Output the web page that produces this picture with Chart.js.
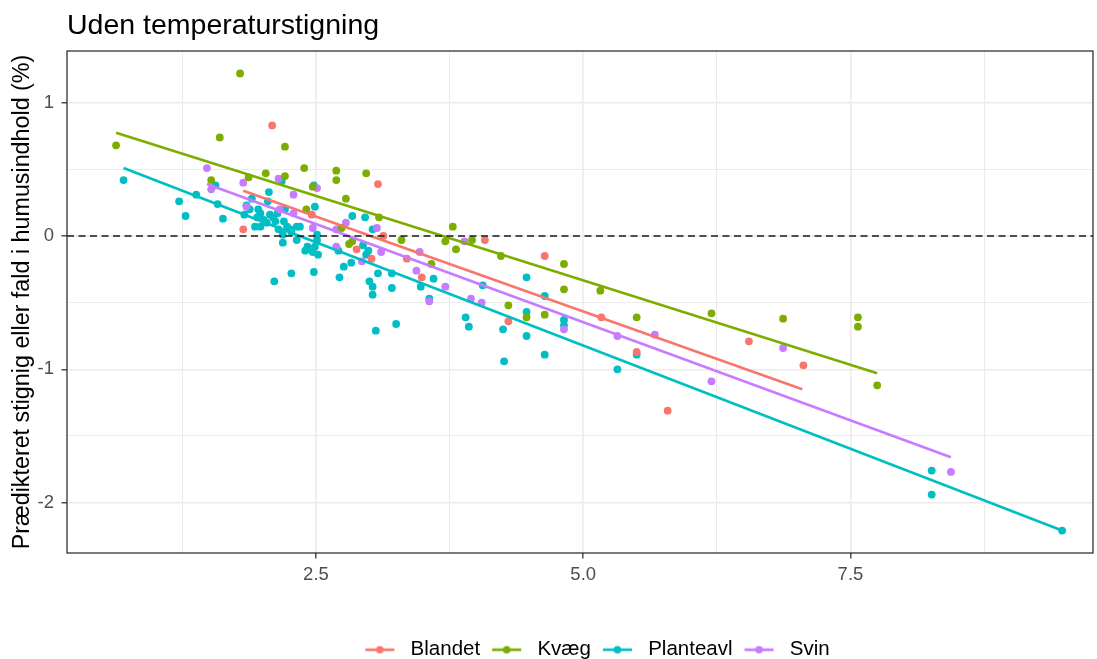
<!DOCTYPE html>
<html>
<head>
<meta charset="utf-8">
<title>Uden temperaturstigning</title>
<script src="https://cdn.jsdelivr.net/npm/chart.js@4.4.1/dist/chart.umd.min.js"></script>
<style>
	html, body { margin: 0; padding: 0; background: #fff; }
	canvas { display: block; }
</style>
</head>
<body>
<canvas id="chart" width="1097" height="659"></canvas>
<script>
var groups = ['Blandet', 'Kvæg', 'Planteavl', 'Svin'];

// [x, y]
var blandet = [[2.09,0.83],[1.82,0.05],[3.08,0.39],[2.46,0.16],[2.88,-0.10],[3.02,-0.17],[3.13,0.00],[3.35,-0.17],
	[3.49,-0.31],[4.08,-0.03],[4.64,-0.15],[4.30,-0.64],[5.17,-0.61],[5.50,-0.87],[5.79,-1.31],[6.55,-0.79],[7.06,-0.97]];

var kvaeg = [[0.63,0.68],[1.79,1.22],[1.60,0.74],[2.21,0.67],[2.39,0.51],[2.69,0.49],[2.69,0.42],[2.21,0.45],
	[1.52,0.42],[1.87,0.44],[2.03,0.47],[2.47,0.37],[2.78,0.28],[2.41,0.20],[2.81,-0.06],[2.84,-0.04],[2.97,0.47],
	[3.09,0.14],[2.74,0.06],[3.78,0.07],[3.71,-0.04],[3.81,-0.10],[3.96,-0.03],[3.30,-0.03],[3.58,-0.21],[4.23,-0.15],
	[4.82,-0.21],[4.82,-0.40],[4.30,-0.52],[4.47,-0.61],[4.64,-0.59],[5.16,-0.41],[5.50,-0.61],[6.20,-0.58],
	[6.87,-0.62],[7.57,-0.61],[7.57,-0.68],[7.75,-1.12]];

var planteavl = [[0.70,0.42],[1.22,0.26],[1.28,0.15],[1.38,0.31],[1.63,0.13],[1.58,0.24],[1.56,0.38],
	[2.06,0.33],[2.18,0.41],[2.48,0.38],[2.05,0.26],[1.83,0.16],[1.85,0.23],[1.88,0.20],[1.90,0.28],[1.93,0.07],
	[1.95,0.14],[1.96,0.20],[1.98,0.17],[1.98,0.07],[2.01,0.12],[2.04,0.10],[2.07,0.16],[2.10,0.14],[2.12,0.11],
	[2.14,0.17],[2.15,0.05],[2.19,0.01],[2.19,-0.05],[2.20,0.11],[2.21,0.20],[2.23,0.07],[2.26,0.05],[2.27,0.03],
	[2.32,0.07],[2.32,-0.03],[2.35,0.07],[2.40,-0.11],[2.42,-0.08],[2.47,-0.12],[2.49,0.22],[2.51,0.01],
	[2.52,-0.14],[2.51,-0.03],[2.49,-0.08],
	[2.11,-0.34],[2.27,-0.28],[2.48,-0.27],[2.72,-0.31],[2.76,-0.23],[2.83,-0.20],[2.71,-0.11],[2.84,0.15],
	[2.96,0.14],[3.03,0.05],[2.94,-0.07],[2.99,-0.11],[2.97,-0.14],[3.08,-0.28],[3.00,-0.34],[3.03,-0.38],
	[3.03,-0.44],[3.21,-0.28],[3.21,-0.39],[3.06,-0.71],[3.25,-0.66],[3.48,-0.38],[3.56,-0.47],[3.60,-0.32],
	[4.06,-0.37],[3.90,-0.61],[3.93,-0.68],[4.25,-0.70],[4.26,-0.94],[4.47,-0.31],[4.47,-0.57],[4.47,-0.75],
	[4.64,-0.45],[4.64,-0.89],[4.82,-0.63],[4.82,-0.67],[5.32,-1.00],[5.50,-0.89],[8.26,-1.76],[8.26,-1.94],
	[9.48,-2.21]];

var svin = [[1.48,0.51],[1.52,0.35],[1.82,0.40],[2.15,0.43],[2.29,0.31],[2.51,0.36],[1.85,0.22],[2.16,0.20],
	[2.29,0.17],[2.47,0.06],[2.69,0.05],[2.78,0.10],[2.69,-0.08],[3.07,0.06],[3.11,-0.12],[2.93,-0.19],
	[3.47,-0.12],[3.44,-0.26],[3.56,-0.49],[3.71,-0.38],[3.89,-0.04],[3.95,-0.47],[4.05,-0.50],[4.82,-0.70],
	[5.32,-0.75],[5.67,-0.74],[6.20,-1.09],[6.87,-0.84],[8.44,-1.77]];

// predicted lines (ends)
var fitBlandet = [[1.82,0.34],[7.05,-1.15]];
var fitKvaeg = [[0.63,0.775],[7.75,-1.03]];
var fitPlanteavl = [[0.70,0.51],[9.48,-2.21]];
var fitSvin = [[1.48,0.39],[8.44,-1.66]];

var xMajor = [2.5, 5, 7.5];
var xMinor = [1.25, 3.75, 6.25, 8.75];
var yMajor = [-2, -1, 0, 1];
var yMinor = [-1.5, -0.5, 0.5];
var xRange = [0.171, 9.769];
var yRange = [-2.378, 1.388];

var groupColors = ['#F8766D', '#7CAE00', '#00BFC4', '#C77CFF'];
var pointOrder = [2, 3, 5, 4];
var FONT = "'Liberation Sans', Arial, sans-serif";

var points = [blandet, kvaeg, planteavl, svin];
var fits = [fitBlandet, fitKvaeg, fitPlanteavl, fitSvin];

function toXY(pairs) {
	return pairs.map(function (p) { return {x: p[0], y: p[1]}; });
}

function tickList(major, minor) {
	return major.concat(minor).sort(function (a, b) { return a - b; }).map(function (v) { return {value: v}; });
}

function isMajor(list, v) {
	for (var i = 0; i < list.length; i++) if (Math.abs(list[i] - v) < 1e-9) return true;
	return false;
}

// legend key: line with a dot, like ggplot
function keyImage(color) {
	var c = document.createElement('canvas');
	c.width = 40; c.height = 12;
	var g = c.getContext('2d');
	g.strokeStyle = color;
	g.lineWidth = 2.7;
	g.beginPath(); g.moveTo(5, 6); g.lineTo(34, 6); g.stroke();
	g.fillStyle = color;
	g.beginPath(); g.arc(19.5, 6, 3.8, 0, Math.PI * 2); g.fill();
	return c;
}
var keyImages = groupColors.map(keyImage);

var datasets = [{
	type: 'line',
	label: 'zero',
	data: [{x: xRange[0], y: 0}, {x: xRange[1], y: 0}],
	borderColor: '#1a1a1a',
	borderWidth: 1.6,
	borderDash: [7, 4.5],
	pointRadius: 0,
	order: 0
}];

for (var i = 0; i < groups.length; i++) {
	datasets.push({
		type: 'line',
		label: groups[i] + ' fit',
		data: toXY(fits[i]),
		borderColor: groupColors[i],
		borderWidth: 2.7,
		pointRadius: 0,
		order: 1
	});
	datasets.push({
		type: 'scatter',
		label: groups[i],
		data: toXY(points[i]),
		backgroundColor: groupColors[i],
		pointRadius: 3.9,
		pointBorderWidth: 0,
		order: pointOrder[i]
	});
}

var panelFrame = {
	id: 'panelFrame',
	afterLayout: function (chart) {
		// ggplot centres the legend a bit further right and lower
		var lg = chart.legend;
		lg.left += 48; lg.right += 48;
		lg.top += 11; lg.bottom += 11;
	},
	afterDraw: function (chart) {
		var a = chart.chartArea, ctx = chart.ctx;
		ctx.save();
		ctx.strokeStyle = '#333333';
		ctx.lineWidth = 1.3;
		ctx.strokeRect(a.left, a.top, a.right - a.left, a.bottom - a.top);
		ctx.restore();
	}
};

function gridOpts(major) {
	return {
		color: '#EBEBEB',
		lineWidth: function (c) { return c.tick && isMajor(major, c.tick.value) ? 1.6 : 1.0; },
		tickColor: function (c) { return c.tick && isMajor(major, c.tick.value) ? '#333333' : 'rgba(0,0,0,0)'; },
		tickWidth: 1.3,
		tickLength: 5.5,
		drawTicks: true
	};
}

new Chart(document.getElementById('chart'), {
	type: 'scatter',
	data: {datasets: datasets},
	plugins: [panelFrame],
	options: {
		responsive: false,
		devicePixelRatio: 1,
		animation: false,
		events: [],
		layout: {padding: {left: 0, right: 3, top: 0, bottom: 0}},
		scales: {
			x: {
				type: 'linear',
				min: xRange[0],
				max: xRange[1],
				afterBuildTicks: function (s) { s.ticks = tickList(xMajor, xMinor); },
				afterFit: function (s) { s.height = 68.5; },
				grid: gridOpts(xMajor),
				border: {display: false},
				ticks: {
					autoSkip: false,
					maxRotation: 0,
					padding: 5.4,
					color: '#4D4D4D',
					font: {family: FONT, size: 18.5},
					callback: function (v) { return isMajor(xMajor, v) ? v.toFixed(1) : ''; }
				}
			},
			y: {
				type: 'linear',
				min: yRange[0],
				max: yRange[1],
				afterBuildTicks: function (s) { s.ticks = tickList(yMajor, yMinor); },
				afterFit: function (s) { s.width = 67; },
				grid: gridOpts(yMajor),
				border: {display: false},
				ticks: {
					autoSkip: false,
					padding: 7.5,
					color: '#4D4D4D',
					font: {family: FONT, size: 18.5},
					callback: function (v) { return isMajor(yMajor, v) ? String(v) : ''; }
				},
				title: {
					display: true,
					text: 'Prædikteret stignig eller fald i humusindhold (%)',
					color: '#000',
					font: {family: FONT, size: 23.3},
					padding: {top: 8.5, bottom: 0}
				}
			}
		},
		plugins: {
			tooltip: {enabled: false},
			title: {
				display: true,
				text: 'Uden temperaturstigning',
				align: 'start',
				fullSize: false,
				color: '#000',
				font: {family: FONT, size: 28.5, weight: 'normal'},
				padding: {top: 9, bottom: 7.8}
			},
			legend: {
				position: 'bottom',
				labels: {
					usePointStyle: true,
					pointStyleWidth: 40,
					padding: 7,
					color: '#000',
					font: {family: FONT, size: 20.5},
					generateLabels: function () {
						return groups.map(function (g, i) {
							return {
								text: g,
								pointStyle: keyImages[i],
								fillStyle: groupColors[i],
								strokeStyle: groupColors[i],
								fontColor: '#000',
								lineWidth: 0,
								hidden: false,
								datasetIndex: i
							};
						});
					}
				}
			}
		}
	}
});
</script>
</body>
</html>
